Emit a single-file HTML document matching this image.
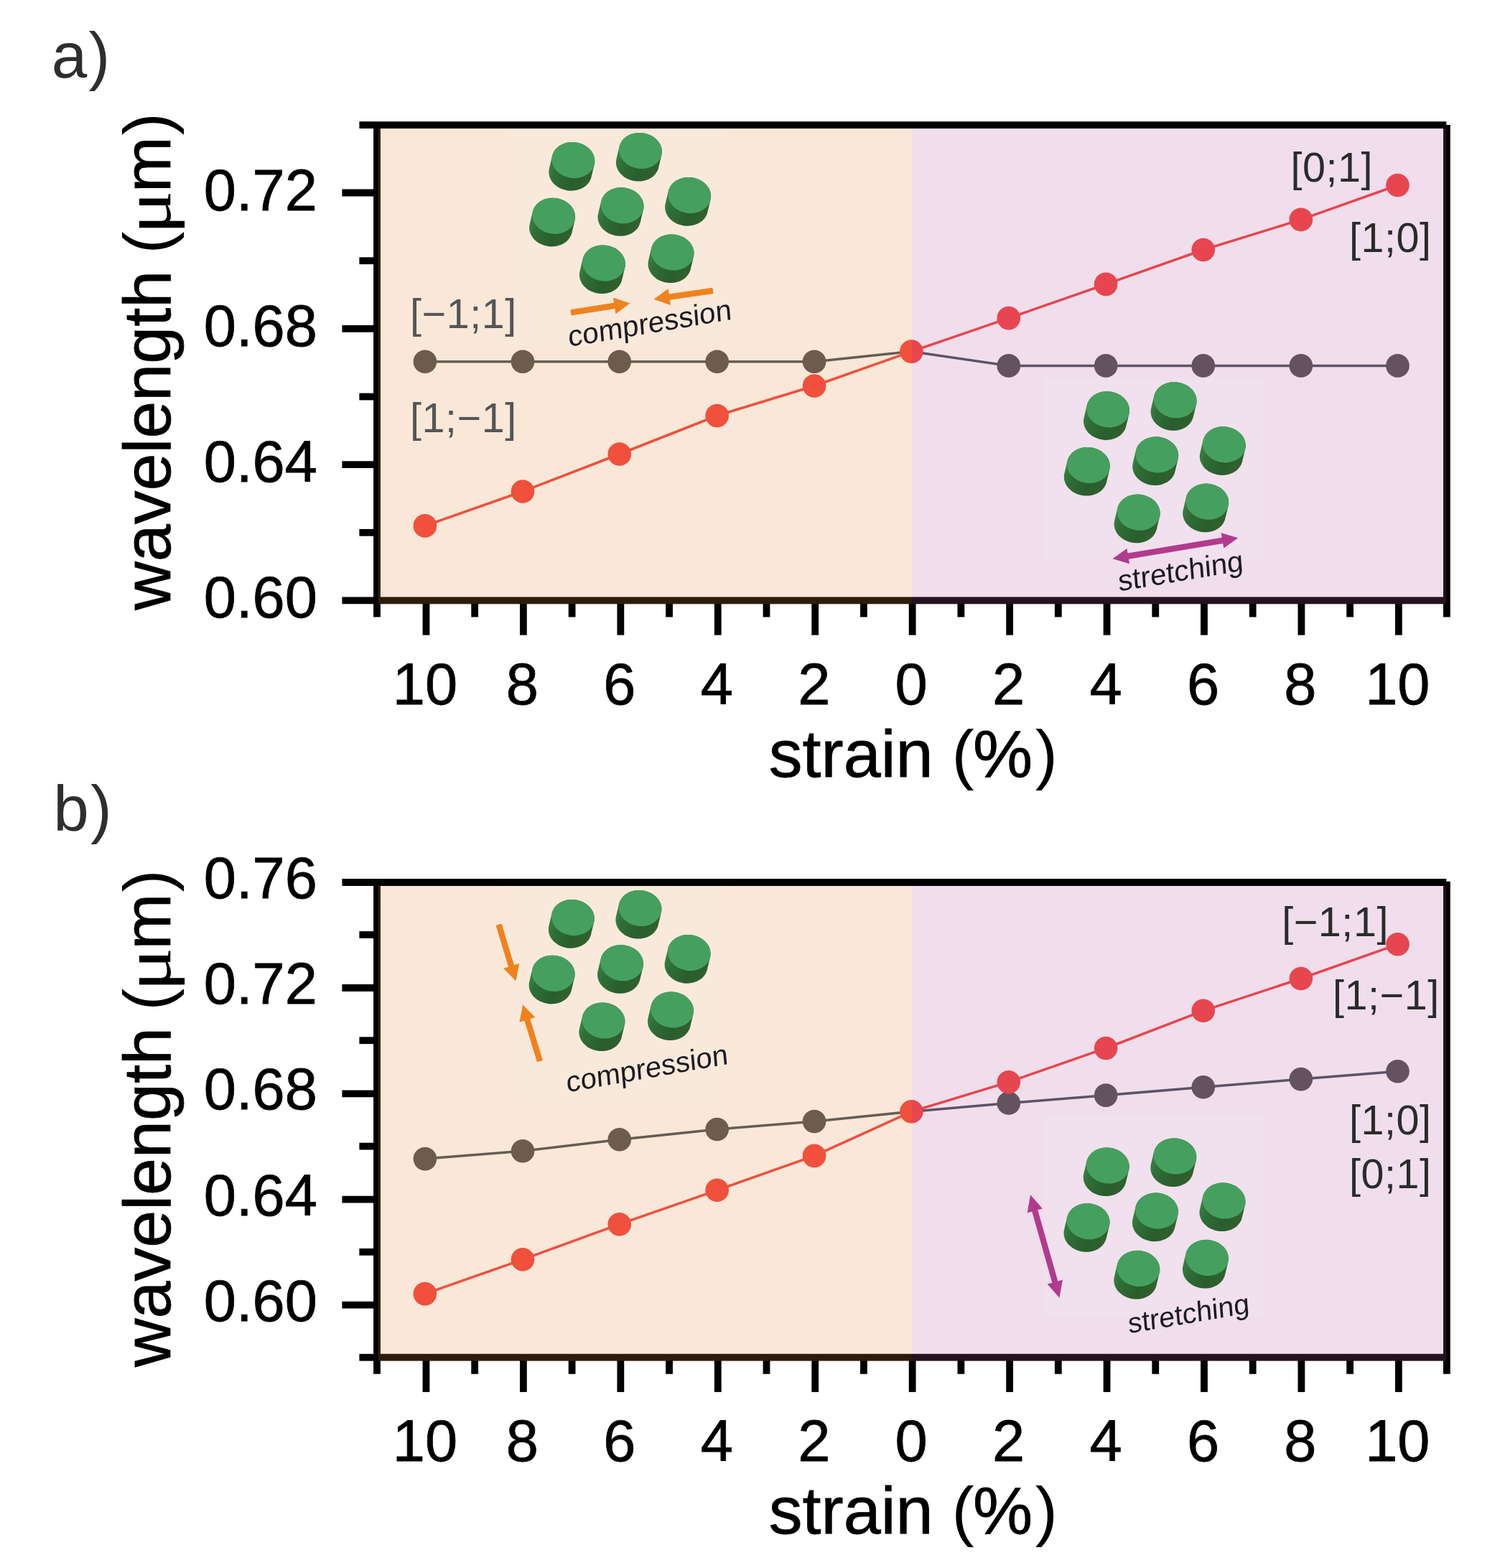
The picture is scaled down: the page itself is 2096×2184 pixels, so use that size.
<!DOCTYPE html>
<html lang="en"><head><meta charset="utf-8"><title>Strain dependence of resonance wavelength</title>
<style>
html,body{margin:0;padding:0;background:#fff;}
body{width:2096px;height:2184px;overflow:hidden;}
svg{display:block;}
text{font-family:"Liberation Sans",sans-serif;}
.tk{font-size:81.2px;fill:#000;stroke:#000;stroke-width:0.8px;}
.ax{font-size:92.4px;fill:#000;stroke:#000;stroke-width:0.8px;}
.pl{font-size:89px;fill:#2e2e2e;}
.lb{font-size:57.5px;letter-spacing:0.55px;}
.in{font-size:40.7px;fill:#1c1a22;}
.mu{font-family:"Liberation Serif","DejaVu Serif",serif;stroke-width:0.2px;}
.pn{stroke:none;}
</style></head><body>
<svg width="2096" height="2184" viewBox="0 0 2096 2184" role="img" aria-label="Resonance wavelength versus strain for compression and stretching, panels a and b">
<defs>
<linearGradient id="side" x1="0" y1="0.35" x2="1" y2="0.75"><stop offset="0" stop-color="#3a8845"/><stop offset="0.22" stop-color="#2f6e37"/><stop offset="0.6" stop-color="#2a5d2e"/><stop offset="1" stop-color="#33622e"/></linearGradient>
</defs>
<rect x="0" y="0" width="2096" height="2184" fill="#fff"/>
<g id="panel-a">
<g stroke="#000" stroke-width="9.8" fill="none" stroke-linecap="butt">
<line x1="525" y1="174.1" x2="525" y2="859.5"/>
<line x1="2014.9" y1="174.1" x2="2014.9" y2="859.5"/>
<line x1="525" y1="836.4" x2="2014.9" y2="836.4"/>
<line x1="525" y1="174.1" x2="2014.3" y2="174.1"/>
<line x1="476.4" y1="268.5" x2="525" y2="268.5"/>
<line x1="476.4" y1="457.8" x2="525" y2="457.8"/>
<line x1="476.4" y1="647.1" x2="525" y2="647.1"/>
<line x1="476.4" y1="836.4" x2="525" y2="836.4"/>
<line x1="500.4" y1="174.1" x2="525" y2="174.1"/>
<line x1="500.4" y1="363.2" x2="525" y2="363.2"/>
<line x1="500.4" y1="552.5" x2="525" y2="552.5"/>
<line x1="500.4" y1="741.8" x2="525" y2="741.8"/>
<line x1="593.45" y1="836.4" x2="593.45" y2="884.6"/>
<line x1="661.17" y1="836.4" x2="661.17" y2="859.5"/>
<line x1="728.89" y1="836.4" x2="728.89" y2="884.6"/>
<line x1="796.61" y1="836.4" x2="796.61" y2="859.5"/>
<line x1="864.33" y1="836.4" x2="864.33" y2="884.6"/>
<line x1="932.05" y1="836.4" x2="932.05" y2="859.5"/>
<line x1="999.77" y1="836.4" x2="999.77" y2="884.6"/>
<line x1="1067.49" y1="836.4" x2="1067.49" y2="859.5"/>
<line x1="1135.21" y1="836.4" x2="1135.21" y2="884.6"/>
<line x1="1202.93" y1="836.4" x2="1202.93" y2="859.5"/>
<line x1="1270.65" y1="836.4" x2="1270.65" y2="884.6"/>
<line x1="1338.37" y1="836.4" x2="1338.37" y2="859.5"/>
<line x1="1406.09" y1="836.4" x2="1406.09" y2="884.6"/>
<line x1="1473.81" y1="836.4" x2="1473.81" y2="859.5"/>
<line x1="1541.53" y1="836.4" x2="1541.53" y2="884.6"/>
<line x1="1609.25" y1="836.4" x2="1609.25" y2="859.5"/>
<line x1="1676.97" y1="836.4" x2="1676.97" y2="884.6"/>
<line x1="1744.69" y1="836.4" x2="1744.69" y2="859.5"/>
<line x1="1812.41" y1="836.4" x2="1812.41" y2="884.6"/>
<line x1="1880.13" y1="836.4" x2="1880.13" y2="859.5"/>
<line x1="1947.85" y1="836.4" x2="1947.85" y2="884.6"/>
</g>
<polyline fill="none" stroke="#46525a" stroke-width="3.5" points="591.9,503.8 727.96,503.8 862.72,503.8 998.68,503.8 1134.04,503.8 1269.4,489.6 1404.76,509.4 1540.12,509.4 1675.78,509.4 1811.84,509.4 1946.5,509.4"/>
<polyline fill="none" stroke="#f4413c" stroke-width="3.5" points="591.9,732.4 727.96,684.5 862.72,632.5 998.68,579 1134.04,537.5 1269.4,489.6 1404.76,443.1 1540.12,395.9 1675.78,348 1811.84,305.9 1946.5,258"/>
<circle cx="591.9" cy="503.8" r="16.3" fill="#505050"/>
<circle cx="727.96" cy="503.8" r="16.3" fill="#505050"/>
<circle cx="862.72" cy="503.8" r="16.3" fill="#505050"/>
<circle cx="998.68" cy="503.8" r="16.3" fill="#505050"/>
<circle cx="1134.04" cy="503.8" r="16.3" fill="#505050"/>
<circle cx="1404.76" cy="509.4" r="16.3" fill="#505050"/>
<circle cx="1540.12" cy="509.4" r="16.3" fill="#505050"/>
<circle cx="1675.78" cy="509.4" r="16.3" fill="#505050"/>
<circle cx="1811.84" cy="509.4" r="16.3" fill="#505050"/>
<circle cx="1946.5" cy="509.4" r="16.3" fill="#505050"/>
<circle cx="591.9" cy="732.4" r="16.3" fill="#f4413c"/>
<circle cx="727.96" cy="684.5" r="16.3" fill="#f4413c"/>
<circle cx="862.72" cy="632.5" r="16.3" fill="#f4413c"/>
<circle cx="998.68" cy="579" r="16.3" fill="#f4413c"/>
<circle cx="1134.04" cy="537.5" r="16.3" fill="#f4413c"/>
<circle cx="1269.4" cy="489.6" r="16.3" fill="#f4413c"/>
<circle cx="1404.76" cy="443.1" r="16.3" fill="#f4413c"/>
<circle cx="1540.12" cy="395.9" r="16.3" fill="#f4413c"/>
<circle cx="1675.78" cy="348" r="16.3" fill="#f4413c"/>
<circle cx="1811.84" cy="305.9" r="16.3" fill="#f4413c"/>
<circle cx="1946.5" cy="258" r="16.3" fill="#f4413c"/>
<rect x="526.5" y="179" width="743.9" height="662.3" fill="rgb(225,140,60)" fill-opacity="0.2"/>
<rect x="1270.4" y="179" width="743.9" height="662.3" fill="rgb(180,88,160)" fill-opacity="0.2"/>
<text class="tk" x="441.8" y="292.5" text-anchor="end">0.72</text>
<text class="tk" x="441.8" y="481.8" text-anchor="end">0.68</text>
<text class="tk" x="441.8" y="671.1" text-anchor="end">0.64</text>
<text class="tk" x="441.8" y="860.4" text-anchor="end">0.60</text>
<text class="tk" x="591.95" y="980.8" text-anchor="middle">10</text>
<text class="tk" x="727.39" y="980.8" text-anchor="middle">8</text>
<text class="tk" x="862.83" y="980.8" text-anchor="middle">6</text>
<text class="tk" x="998.27" y="980.8" text-anchor="middle">4</text>
<text class="tk" x="1133.71" y="980.8" text-anchor="middle">2</text>
<text class="tk" x="1269.15" y="980.8" text-anchor="middle">0</text>
<text class="tk" x="1404.59" y="980.8" text-anchor="middle">2</text>
<text class="tk" x="1540.03" y="980.8" text-anchor="middle">4</text>
<text class="tk" x="1675.47" y="980.8" text-anchor="middle">6</text>
<text class="tk" x="1810.91" y="980.8" text-anchor="middle">8</text>
<text class="tk" x="1946.35" y="980.8" text-anchor="middle">10</text>
<text class="ax" transform="translate(1271.8 1081.9) scale(1.012 1)" text-anchor="middle">strain <tspan class="pn">(</tspan><tspan dx="-1.5">%</tspan><tspan class="pn" dx="3.5">)</tspan></text>
<text class="ax" transform="translate(236.7 849.77) rotate(-90) scale(1.012 1)">wavelength <tspan class="pn" dx="-2.6">(</tspan><tspan class="mu" dx="-3.8" textLength="59.9" lengthAdjust="spacingAndGlyphs">μ</tspan><tspan dx="-2.5">m</tspan><tspan class="pn" dx="1.9">)</tspan></text>
<text class="pl" x="71.8" y="108">a<tspan dx="2.3">)</tspan></text>
</g>
<g id="panel-b">
<g stroke="#000" stroke-width="9.8" fill="none" stroke-linecap="butt">
<line x1="525" y1="1229" x2="525" y2="1913.8"/>
<line x1="2014.9" y1="1227.7" x2="2014.9" y2="1913.8"/>
<line x1="525" y1="1890.7" x2="2014.9" y2="1890.7"/>
<line x1="525" y1="1229" x2="2014.3" y2="1229"/>
<line x1="476.4" y1="1229" x2="525" y2="1229"/>
<line x1="476.4" y1="1376" x2="525" y2="1376"/>
<line x1="476.4" y1="1523.3" x2="525" y2="1523.3"/>
<line x1="476.4" y1="1670.6" x2="525" y2="1670.6"/>
<line x1="476.4" y1="1817.7" x2="525" y2="1817.7"/>
<line x1="500.4" y1="1302" x2="525" y2="1302"/>
<line x1="500.4" y1="1449.2" x2="525" y2="1449.2"/>
<line x1="500.4" y1="1596.6" x2="525" y2="1596.6"/>
<line x1="500.4" y1="1743.8" x2="525" y2="1743.8"/>
<line x1="500.4" y1="1890.7" x2="525" y2="1890.7"/>
<line x1="593.45" y1="1890.7" x2="593.45" y2="1938.9"/>
<line x1="661.17" y1="1890.7" x2="661.17" y2="1913.8"/>
<line x1="728.89" y1="1890.7" x2="728.89" y2="1938.9"/>
<line x1="796.61" y1="1890.7" x2="796.61" y2="1913.8"/>
<line x1="864.33" y1="1890.7" x2="864.33" y2="1938.9"/>
<line x1="932.05" y1="1890.7" x2="932.05" y2="1913.8"/>
<line x1="999.77" y1="1890.7" x2="999.77" y2="1938.9"/>
<line x1="1067.49" y1="1890.7" x2="1067.49" y2="1913.8"/>
<line x1="1135.21" y1="1890.7" x2="1135.21" y2="1938.9"/>
<line x1="1202.93" y1="1890.7" x2="1202.93" y2="1913.8"/>
<line x1="1270.65" y1="1890.7" x2="1270.65" y2="1938.9"/>
<line x1="1338.37" y1="1890.7" x2="1338.37" y2="1913.8"/>
<line x1="1406.09" y1="1890.7" x2="1406.09" y2="1938.9"/>
<line x1="1473.81" y1="1890.7" x2="1473.81" y2="1913.8"/>
<line x1="1541.53" y1="1890.7" x2="1541.53" y2="1938.9"/>
<line x1="1609.25" y1="1890.7" x2="1609.25" y2="1913.8"/>
<line x1="1676.97" y1="1890.7" x2="1676.97" y2="1938.9"/>
<line x1="1744.69" y1="1890.7" x2="1744.69" y2="1913.8"/>
<line x1="1812.41" y1="1890.7" x2="1812.41" y2="1938.9"/>
<line x1="1880.13" y1="1890.7" x2="1880.13" y2="1913.8"/>
<line x1="1947.85" y1="1890.7" x2="1947.85" y2="1938.9"/>
</g>
<polyline fill="none" stroke="#46525a" stroke-width="3.5" points="591.9,1614.1 727.96,1603.2 862.72,1587.2 998.68,1573 1134.04,1562 1269.4,1548.3 1404.76,1536.5 1540.12,1525.6 1675.78,1514.3 1811.84,1503.1 1946.5,1492.2"/>
<polyline fill="none" stroke="#f4413c" stroke-width="3.5" points="591.9,1802.1 727.96,1754.3 862.72,1705.2 998.68,1657.8 1134.04,1609.9 1269.4,1548.3 1404.76,1507.2 1540.12,1460 1675.78,1407.8 1811.84,1363 1946.5,1315.3"/>
<circle cx="591.9" cy="1614.1" r="16.3" fill="#505050"/>
<circle cx="727.96" cy="1603.2" r="16.3" fill="#505050"/>
<circle cx="862.72" cy="1587.2" r="16.3" fill="#505050"/>
<circle cx="998.68" cy="1573" r="16.3" fill="#505050"/>
<circle cx="1134.04" cy="1562" r="16.3" fill="#505050"/>
<circle cx="1404.76" cy="1536.5" r="16.3" fill="#505050"/>
<circle cx="1540.12" cy="1525.6" r="16.3" fill="#505050"/>
<circle cx="1675.78" cy="1514.3" r="16.3" fill="#505050"/>
<circle cx="1811.84" cy="1503.1" r="16.3" fill="#505050"/>
<circle cx="1946.5" cy="1492.2" r="16.3" fill="#505050"/>
<circle cx="591.9" cy="1802.1" r="16.3" fill="#f4413c"/>
<circle cx="727.96" cy="1754.3" r="16.3" fill="#f4413c"/>
<circle cx="862.72" cy="1705.2" r="16.3" fill="#f4413c"/>
<circle cx="998.68" cy="1657.8" r="16.3" fill="#f4413c"/>
<circle cx="1134.04" cy="1609.9" r="16.3" fill="#f4413c"/>
<circle cx="1269.4" cy="1548.3" r="16.3" fill="#f4413c"/>
<circle cx="1404.76" cy="1507.2" r="16.3" fill="#f4413c"/>
<circle cx="1540.12" cy="1460" r="16.3" fill="#f4413c"/>
<circle cx="1675.78" cy="1407.8" r="16.3" fill="#f4413c"/>
<circle cx="1811.84" cy="1363" r="16.3" fill="#f4413c"/>
<circle cx="1946.5" cy="1315.3" r="16.3" fill="#f4413c"/>
<rect x="526.5" y="1233.9" width="743.9" height="661.7" fill="rgb(225,140,60)" fill-opacity="0.2"/>
<rect x="1270.4" y="1233.9" width="743.9" height="661.7" fill="rgb(180,88,160)" fill-opacity="0.2"/>
<text class="tk" x="441.8" y="1250.9" text-anchor="end">0.76</text>
<text class="tk" x="441.8" y="1397.9" text-anchor="end">0.72</text>
<text class="tk" x="441.8" y="1545.2" text-anchor="end">0.68</text>
<text class="tk" x="441.8" y="1692.5" text-anchor="end">0.64</text>
<text class="tk" x="441.8" y="1839.6" text-anchor="end">0.60</text>
<text class="tk" x="591.95" y="2035.3" text-anchor="middle">10</text>
<text class="tk" x="727.39" y="2035.3" text-anchor="middle">8</text>
<text class="tk" x="862.83" y="2035.3" text-anchor="middle">6</text>
<text class="tk" x="998.27" y="2035.3" text-anchor="middle">4</text>
<text class="tk" x="1133.71" y="2035.3" text-anchor="middle">2</text>
<text class="tk" x="1269.15" y="2035.3" text-anchor="middle">0</text>
<text class="tk" x="1404.59" y="2035.3" text-anchor="middle">2</text>
<text class="tk" x="1540.03" y="2035.3" text-anchor="middle">4</text>
<text class="tk" x="1675.47" y="2035.3" text-anchor="middle">6</text>
<text class="tk" x="1810.91" y="2035.3" text-anchor="middle">8</text>
<text class="tk" x="1946.35" y="2035.3" text-anchor="middle">10</text>
<text class="ax" transform="translate(1271.8 2135.6) scale(1.012 1)" text-anchor="middle">strain <tspan class="pn">(</tspan><tspan dx="-1.5">%</tspan><tspan class="pn" dx="3.5">)</tspan></text>
<text class="ax" transform="translate(236.7 1904.07) rotate(-90) scale(1.012 1)">wavelength <tspan class="pn" dx="-2.6">(</tspan><tspan class="mu" dx="-3.8" textLength="59.9" lengthAdjust="spacingAndGlyphs">μ</tspan><tspan dx="-2.5">m</tspan><tspan class="pn" dx="1.9">)</tspan></text>
<text class="pl" x="74.2" y="1157.3">b<tspan dx="2.3">)</tspan></text>
</g>
<g id="inset-a-compression">
<rect x="708" y="182" width="305" height="300" fill="#fff" fill-opacity="0.07"/>
<path d="M764.3 239.7L764.5 236.4L765.2 233.2L769.4 215.7L770.6 212.7L772.3 209.8L774.4 207.1L776.9 204.7L779.9 202.6L783.1 200.9L786.6 199.6L790.2 198.6L794.1 198.1L798.0 198.0L801.9 198.3L805.7 199.1L809.4 200.3L813.0 201.8L816.3 203.7L819.2 206.0L821.9 208.5L824.1 211.3L825.9 214.3L827.2 217.5L828.0 220.7L828.3 224.0L828.1 227.3L827.4 230.5L823.2 248.0L822.0 251.0L820.3 253.9L818.2 256.6L815.7 259.0L812.7 261.1L809.5 262.8L806.0 264.1L802.4 265.1L798.5 265.6L794.6 265.7L790.7 265.4L786.9 264.6L783.2 263.4L779.6 261.9L776.3 260.0L773.4 257.7L770.7 255.2L768.5 252.4L766.7 249.4L765.4 246.2L764.6 243.0Z" fill="url(#side)"/>
<ellipse cx="798.4" cy="223.1" rx="30" ry="25" transform="rotate(8 798.4 223.1)" fill="#45a05f"/>
<path d="M857.9 226.6L858.1 223.3L858.8 220.1L863.0 202.6L864.2 199.6L865.9 196.7L868.0 194.0L870.5 191.6L873.5 189.5L876.7 187.8L880.2 186.5L883.8 185.5L887.7 185.0L891.6 184.9L895.5 185.2L899.3 186.0L903.0 187.2L906.6 188.7L909.9 190.6L912.8 192.9L915.5 195.4L917.7 198.2L919.5 201.2L920.8 204.4L921.6 207.6L921.9 210.9L921.7 214.2L921.0 217.4L916.8 234.9L915.6 237.9L913.9 240.8L911.8 243.5L909.3 245.9L906.3 248.0L903.1 249.7L899.6 251.0L896.0 252.0L892.1 252.5L888.2 252.6L884.3 252.3L880.5 251.5L876.8 250.3L873.2 248.8L869.9 246.9L867.0 244.6L864.3 242.1L862.1 239.3L860.3 236.3L859.0 233.1L858.2 229.9Z" fill="url(#side)"/>
<ellipse cx="892" cy="210" rx="30" ry="25" transform="rotate(8 892 210)" fill="#45a05f"/>
<path d="M737.1 317.4L737.3 314.1L738.0 310.9L742.2 293.4L743.4 290.4L745.1 287.5L747.2 284.8L749.7 282.4L752.7 280.3L755.9 278.6L759.4 277.3L763.0 276.3L766.9 275.8L770.8 275.7L774.7 276.0L778.5 276.8L782.2 278.0L785.8 279.5L789.1 281.4L792.0 283.7L794.7 286.2L796.9 289.0L798.7 292.0L800.0 295.2L800.8 298.4L801.1 301.7L800.9 305.0L800.2 308.2L796.0 325.7L794.8 328.7L793.1 331.6L791.0 334.3L788.5 336.7L785.5 338.8L782.3 340.5L778.8 341.8L775.2 342.8L771.3 343.3L767.4 343.4L763.5 343.1L759.7 342.3L756.0 341.1L752.4 339.6L749.1 337.7L746.2 335.4L743.5 332.9L741.3 330.1L739.5 327.1L738.2 323.9L737.4 320.7Z" fill="url(#side)"/>
<ellipse cx="771.2" cy="300.8" rx="30" ry="25" transform="rotate(8 771.2 300.8)" fill="#45a05f"/>
<path d="M832.5 302.8L832.7 299.5L833.4 296.3L837.6 278.8L838.8 275.8L840.5 272.9L842.6 270.2L845.1 267.8L848.1 265.7L851.3 264.0L854.8 262.7L858.4 261.7L862.3 261.2L866.2 261.1L870.1 261.4L873.9 262.2L877.6 263.4L881.2 264.9L884.5 266.8L887.4 269.1L890.1 271.6L892.3 274.4L894.1 277.4L895.4 280.6L896.2 283.8L896.5 287.1L896.3 290.4L895.6 293.6L891.4 311.1L890.2 314.1L888.5 317.0L886.4 319.7L883.9 322.1L880.9 324.2L877.7 325.9L874.2 327.2L870.6 328.2L866.7 328.7L862.8 328.8L858.9 328.5L855.1 327.7L851.4 326.5L847.8 325.0L844.5 323.1L841.6 320.8L838.9 318.3L836.7 315.5L834.9 312.5L833.6 309.3L832.8 306.1Z" fill="url(#side)"/>
<ellipse cx="866.6" cy="286.2" rx="30" ry="25" transform="rotate(8 866.6 286.2)" fill="#45a05f"/>
<path d="M926.1 288.7L926.3 285.4L927.0 282.2L931.2 264.7L932.4 261.7L934.1 258.8L936.2 256.1L938.7 253.7L941.7 251.6L944.9 249.9L948.4 248.6L952.0 247.6L955.9 247.1L959.8 247.0L963.7 247.3L967.5 248.1L971.2 249.3L974.8 250.8L978.1 252.7L981.0 255.0L983.7 257.5L985.9 260.3L987.7 263.3L989.0 266.5L989.8 269.7L990.1 273.0L989.9 276.3L989.2 279.5L985.0 297.0L983.8 300.0L982.1 302.9L980.0 305.6L977.5 308.0L974.5 310.1L971.3 311.8L967.8 313.1L964.2 314.1L960.3 314.6L956.4 314.7L952.5 314.4L948.7 313.6L945.0 312.4L941.4 310.9L938.1 309.0L935.2 306.7L932.5 304.2L930.3 301.4L928.5 298.4L927.2 295.2L926.4 292.0Z" fill="url(#side)"/>
<ellipse cx="960.2" cy="272.1" rx="30" ry="25" transform="rotate(8 960.2 272.1)" fill="#45a05f"/>
<path d="M806.9 383.1L807.1 379.8L807.8 376.6L812.0 359.1L813.2 356.1L814.9 353.2L817.0 350.5L819.5 348.1L822.5 346.0L825.7 344.3L829.2 343.0L832.8 342.0L836.7 341.5L840.6 341.4L844.5 341.7L848.3 342.5L852.0 343.7L855.6 345.2L858.9 347.1L861.8 349.4L864.5 351.9L866.7 354.7L868.5 357.7L869.8 360.9L870.6 364.1L870.9 367.4L870.7 370.7L870.0 373.9L865.8 391.4L864.6 394.4L862.9 397.3L860.8 400.0L858.3 402.4L855.3 404.5L852.1 406.2L848.6 407.5L845.0 408.5L841.1 409.0L837.2 409.1L833.3 408.8L829.5 408.0L825.8 406.8L822.2 405.3L818.9 403.4L816.0 401.1L813.3 398.6L811.1 395.8L809.3 392.8L808.0 389.6L807.2 386.4Z" fill="url(#side)"/>
<ellipse cx="841" cy="366.5" rx="30" ry="25" transform="rotate(8 841 366.5)" fill="#45a05f"/>
<path d="M902.5 368.1L902.7 364.8L903.4 361.6L907.6 344.1L908.8 341.1L910.5 338.2L912.6 335.5L915.1 333.1L918.1 331.0L921.3 329.3L924.8 328.0L928.4 327.0L932.3 326.5L936.2 326.4L940.1 326.7L943.9 327.5L947.6 328.7L951.2 330.2L954.5 332.1L957.4 334.4L960.1 336.9L962.3 339.7L964.1 342.7L965.4 345.9L966.2 349.1L966.5 352.4L966.3 355.7L965.6 358.9L961.4 376.4L960.2 379.4L958.5 382.3L956.4 385.0L953.9 387.4L950.9 389.5L947.7 391.2L944.2 392.5L940.6 393.5L936.7 394.0L932.8 394.1L928.9 393.8L925.1 393.0L921.4 391.8L917.8 390.3L914.5 388.4L911.6 386.1L908.9 383.6L906.7 380.8L904.9 377.8L903.6 374.6L902.8 371.4Z" fill="url(#side)"/>
<ellipse cx="936.6" cy="351.5" rx="30" ry="25" transform="rotate(8 936.6 351.5)" fill="#45a05f"/>
<path d="M795.5 439.5L856.3 430.0L857.4 437.3L877.4 422.5L853.9 414.5L855.0 421.8L794.3 431.3Z" fill="#ef821d"/>
<path d="M992.4 400.7L931.7 409.5L930.6 402.2L910.5 416.7L933.9 424.9L932.9 417.7L993.6 408.9Z" fill="#ef821d"/>
<text class="in" transform="translate(792.3 483.1) rotate(-9.57) skewX(-5)">compression</text>
</g>
<g id="inset-a-stretching">
<rect x="1454.5" y="527" width="307" height="253" fill="#fff" fill-opacity="0.07"/>
<path d="M1509.0 586.9L1509.2 583.6L1509.9 580.4L1514.1 562.9L1515.3 559.9L1517.0 557.0L1519.1 554.3L1521.6 551.9L1524.6 549.8L1527.8 548.1L1531.3 546.8L1534.9 545.8L1538.8 545.3L1542.7 545.2L1546.6 545.5L1550.4 546.3L1554.1 547.5L1557.7 549.0L1561.0 550.9L1563.9 553.2L1566.6 555.7L1568.8 558.5L1570.6 561.5L1571.9 564.7L1572.7 567.9L1573.0 571.2L1572.8 574.5L1572.1 577.7L1567.9 595.2L1566.7 598.2L1565.0 601.1L1562.9 603.8L1560.4 606.2L1557.4 608.3L1554.2 610.0L1550.7 611.3L1547.1 612.3L1543.2 612.8L1539.3 612.9L1535.4 612.6L1531.6 611.8L1527.9 610.6L1524.3 609.1L1521.0 607.2L1518.1 604.9L1515.4 602.4L1513.2 599.6L1511.4 596.6L1510.1 593.4L1509.3 590.2Z" fill="url(#side)"/>
<ellipse cx="1543.1" cy="570.3" rx="30" ry="25" transform="rotate(8 1543.1 570.3)" fill="#45a05f"/>
<path d="M1602.6 573.8L1602.8 570.5L1603.5 567.3L1607.7 549.8L1608.9 546.8L1610.6 543.9L1612.7 541.2L1615.2 538.8L1618.2 536.7L1621.4 535.0L1624.9 533.7L1628.5 532.7L1632.4 532.2L1636.3 532.1L1640.2 532.4L1644.0 533.2L1647.7 534.4L1651.3 535.9L1654.6 537.8L1657.5 540.1L1660.2 542.6L1662.4 545.4L1664.2 548.4L1665.5 551.6L1666.3 554.8L1666.6 558.1L1666.4 561.4L1665.7 564.6L1661.5 582.1L1660.3 585.1L1658.6 588.0L1656.5 590.7L1654.0 593.1L1651.0 595.2L1647.8 596.9L1644.3 598.2L1640.7 599.2L1636.8 599.7L1632.9 599.8L1629.0 599.5L1625.2 598.7L1621.5 597.5L1617.9 596.0L1614.6 594.1L1611.7 591.8L1609.0 589.3L1606.8 586.5L1605.0 583.5L1603.7 580.3L1602.9 577.1Z" fill="url(#side)"/>
<ellipse cx="1636.7" cy="557.2" rx="30" ry="25" transform="rotate(8 1636.7 557.2)" fill="#45a05f"/>
<path d="M1481.8 664.6L1482.0 661.3L1482.7 658.1L1486.9 640.6L1488.1 637.6L1489.8 634.7L1491.9 632.0L1494.4 629.6L1497.4 627.5L1500.6 625.8L1504.1 624.5L1507.7 623.5L1511.6 623.0L1515.5 622.9L1519.4 623.2L1523.2 624.0L1526.9 625.2L1530.5 626.7L1533.8 628.6L1536.7 630.9L1539.4 633.4L1541.6 636.2L1543.4 639.2L1544.7 642.4L1545.5 645.6L1545.8 648.9L1545.6 652.2L1544.9 655.4L1540.7 672.9L1539.5 675.9L1537.8 678.8L1535.7 681.5L1533.2 683.9L1530.2 686.0L1527.0 687.7L1523.5 689.0L1519.9 690.0L1516.0 690.5L1512.1 690.6L1508.2 690.3L1504.4 689.5L1500.7 688.3L1497.1 686.8L1493.8 684.9L1490.9 682.6L1488.2 680.1L1486.0 677.3L1484.2 674.3L1482.9 671.1L1482.1 667.9Z" fill="url(#side)"/>
<ellipse cx="1515.9" cy="648" rx="30" ry="25" transform="rotate(8 1515.9 648)" fill="#45a05f"/>
<path d="M1577.2 650.0L1577.4 646.7L1578.1 643.5L1582.3 626.0L1583.5 623.0L1585.2 620.1L1587.3 617.4L1589.8 615.0L1592.8 612.9L1596.0 611.2L1599.5 609.9L1603.1 608.9L1607.0 608.4L1610.9 608.3L1614.8 608.6L1618.6 609.4L1622.3 610.6L1625.9 612.1L1629.2 614.0L1632.1 616.3L1634.8 618.8L1637.0 621.6L1638.8 624.6L1640.1 627.8L1640.9 631.0L1641.2 634.3L1641.0 637.6L1640.3 640.8L1636.1 658.3L1634.9 661.3L1633.2 664.2L1631.1 666.9L1628.6 669.3L1625.6 671.4L1622.4 673.1L1618.9 674.4L1615.3 675.4L1611.4 675.9L1607.5 676.0L1603.6 675.7L1599.8 674.9L1596.1 673.7L1592.5 672.2L1589.2 670.3L1586.3 668.0L1583.6 665.5L1581.4 662.7L1579.6 659.7L1578.3 656.5L1577.5 653.3Z" fill="url(#side)"/>
<ellipse cx="1611.3" cy="633.4" rx="30" ry="25" transform="rotate(8 1611.3 633.4)" fill="#45a05f"/>
<path d="M1670.8 635.9L1671.0 632.6L1671.7 629.4L1675.9 611.9L1677.1 608.9L1678.8 606.0L1680.9 603.3L1683.4 600.9L1686.4 598.8L1689.6 597.1L1693.1 595.8L1696.7 594.8L1700.6 594.3L1704.5 594.2L1708.4 594.5L1712.2 595.3L1715.9 596.5L1719.5 598.0L1722.8 599.9L1725.7 602.2L1728.4 604.7L1730.6 607.5L1732.4 610.5L1733.7 613.7L1734.5 616.9L1734.8 620.2L1734.6 623.5L1733.9 626.7L1729.7 644.2L1728.5 647.2L1726.8 650.1L1724.7 652.8L1722.2 655.2L1719.2 657.3L1716.0 659.0L1712.5 660.3L1708.9 661.3L1705.0 661.8L1701.1 661.9L1697.2 661.6L1693.4 660.8L1689.7 659.6L1686.1 658.1L1682.8 656.2L1679.9 653.9L1677.2 651.4L1675.0 648.6L1673.2 645.6L1671.9 642.4L1671.1 639.2Z" fill="url(#side)"/>
<ellipse cx="1704.9" cy="619.3" rx="30" ry="25" transform="rotate(8 1704.9 619.3)" fill="#45a05f"/>
<path d="M1551.6 730.3L1551.8 727.0L1552.5 723.8L1556.7 706.3L1557.9 703.3L1559.6 700.4L1561.7 697.7L1564.2 695.3L1567.2 693.2L1570.4 691.5L1573.9 690.2L1577.5 689.2L1581.4 688.7L1585.3 688.6L1589.2 688.9L1593.0 689.7L1596.7 690.9L1600.3 692.4L1603.6 694.3L1606.5 696.6L1609.2 699.1L1611.4 701.9L1613.2 704.9L1614.5 708.1L1615.3 711.3L1615.6 714.6L1615.4 717.9L1614.7 721.1L1610.5 738.6L1609.3 741.6L1607.6 744.5L1605.5 747.2L1603.0 749.6L1600.0 751.7L1596.8 753.4L1593.3 754.7L1589.7 755.7L1585.8 756.2L1581.9 756.3L1578.0 756.0L1574.2 755.2L1570.5 754.0L1566.9 752.5L1563.6 750.6L1560.7 748.3L1558.0 745.8L1555.8 743.0L1554.0 740.0L1552.7 736.8L1551.9 733.6Z" fill="url(#side)"/>
<ellipse cx="1585.7" cy="713.7" rx="30" ry="25" transform="rotate(8 1585.7 713.7)" fill="#45a05f"/>
<path d="M1647.2 715.3L1647.4 712.0L1648.1 708.8L1652.3 691.3L1653.5 688.3L1655.2 685.4L1657.3 682.7L1659.8 680.3L1662.8 678.2L1666.0 676.5L1669.5 675.2L1673.1 674.2L1677.0 673.7L1680.9 673.6L1684.8 673.9L1688.6 674.7L1692.3 675.9L1695.9 677.4L1699.2 679.3L1702.1 681.6L1704.8 684.1L1707.0 686.9L1708.8 689.9L1710.1 693.1L1710.9 696.3L1711.2 699.6L1711.0 702.9L1710.3 706.1L1706.1 723.6L1704.9 726.6L1703.2 729.5L1701.1 732.2L1698.6 734.6L1695.6 736.7L1692.4 738.4L1688.9 739.7L1685.3 740.7L1681.4 741.2L1677.5 741.3L1673.6 741.0L1669.8 740.2L1666.1 739.0L1662.5 737.5L1659.2 735.6L1656.3 733.3L1653.6 730.8L1651.4 728.0L1649.6 725.0L1648.3 721.8L1647.5 718.6Z" fill="url(#side)"/>
<ellipse cx="1681.3" cy="698.7" rx="30" ry="25" transform="rotate(8 1681.3 698.7)" fill="#45a05f"/>
<path d="M1549.5 778.3L1573.0 785.3L1571.9 778.8L1703.2 756.9L1704.3 763.4L1724.2 749.2L1700.7 742.2L1701.8 748.7L1570.5 770.6L1569.4 764.1Z" fill="#b23a8e"/>
<text class="in" transform="translate(1558.3 823.6) rotate(-9.5) skewX(-5)">stretching</text>
</g>
<g id="inset-b-compression">
<rect x="708" y="1236" width="305" height="300" fill="#fff" fill-opacity="0.07"/>
<path d="M763.8 1294.7L764.0 1291.4L764.7 1288.2L768.9 1270.7L770.1 1267.7L771.8 1264.8L773.9 1262.1L776.4 1259.7L779.4 1257.6L782.6 1255.9L786.1 1254.6L789.7 1253.6L793.6 1253.1L797.5 1253.0L801.4 1253.3L805.2 1254.1L808.9 1255.3L812.5 1256.8L815.8 1258.7L818.7 1261.0L821.4 1263.5L823.6 1266.3L825.4 1269.3L826.7 1272.5L827.5 1275.7L827.8 1279.0L827.6 1282.3L826.9 1285.5L822.7 1303.0L821.5 1306.0L819.8 1308.9L817.7 1311.6L815.2 1314.0L812.2 1316.1L809.0 1317.8L805.5 1319.1L801.9 1320.1L798.0 1320.6L794.1 1320.7L790.2 1320.4L786.4 1319.6L782.7 1318.4L779.1 1316.9L775.8 1315.0L772.9 1312.7L770.2 1310.2L768.0 1307.4L766.2 1304.4L764.9 1301.2L764.1 1298.0Z" fill="url(#side)"/>
<ellipse cx="797.9" cy="1278.1" rx="30" ry="25" transform="rotate(8 797.9 1278.1)" fill="#45a05f"/>
<path d="M857.4 1281.6L857.6 1278.3L858.3 1275.1L862.5 1257.6L863.7 1254.6L865.4 1251.7L867.5 1249.0L870.0 1246.6L873.0 1244.5L876.2 1242.8L879.7 1241.5L883.3 1240.5L887.2 1240.0L891.1 1239.9L895.0 1240.2L898.8 1241.0L902.5 1242.2L906.1 1243.7L909.4 1245.6L912.3 1247.9L915.0 1250.4L917.2 1253.2L919.0 1256.2L920.3 1259.4L921.1 1262.6L921.4 1265.9L921.2 1269.2L920.5 1272.4L916.3 1289.9L915.1 1292.9L913.4 1295.8L911.3 1298.5L908.8 1300.9L905.8 1303.0L902.6 1304.7L899.1 1306.0L895.5 1307.0L891.6 1307.5L887.7 1307.6L883.8 1307.3L880.0 1306.5L876.3 1305.3L872.7 1303.8L869.4 1301.9L866.5 1299.6L863.8 1297.1L861.6 1294.3L859.8 1291.3L858.5 1288.1L857.7 1284.9Z" fill="url(#side)"/>
<ellipse cx="891.5" cy="1265" rx="30" ry="25" transform="rotate(8 891.5 1265)" fill="#45a05f"/>
<path d="M736.6 1372.4L736.8 1369.1L737.5 1365.9L741.7 1348.4L742.9 1345.4L744.6 1342.5L746.7 1339.8L749.2 1337.4L752.2 1335.3L755.4 1333.6L758.9 1332.3L762.5 1331.3L766.4 1330.8L770.3 1330.7L774.2 1331.0L778.0 1331.8L781.7 1333.0L785.3 1334.5L788.6 1336.4L791.5 1338.7L794.2 1341.2L796.4 1344.0L798.2 1347.0L799.5 1350.2L800.3 1353.4L800.6 1356.7L800.4 1360.0L799.7 1363.2L795.5 1380.7L794.3 1383.7L792.6 1386.6L790.5 1389.3L788.0 1391.7L785.0 1393.8L781.8 1395.5L778.3 1396.8L774.7 1397.8L770.8 1398.3L766.9 1398.4L763.0 1398.1L759.2 1397.3L755.5 1396.1L751.9 1394.6L748.6 1392.7L745.7 1390.4L743.0 1387.9L740.8 1385.1L739.0 1382.1L737.7 1378.9L736.9 1375.7Z" fill="url(#side)"/>
<ellipse cx="770.7" cy="1355.8" rx="30" ry="25" transform="rotate(8 770.7 1355.8)" fill="#45a05f"/>
<path d="M832.0 1357.8L832.2 1354.5L832.9 1351.3L837.1 1333.8L838.3 1330.8L840.0 1327.9L842.1 1325.2L844.6 1322.8L847.6 1320.7L850.8 1319.0L854.3 1317.7L857.9 1316.7L861.8 1316.2L865.7 1316.1L869.6 1316.4L873.4 1317.2L877.1 1318.4L880.7 1319.9L884.0 1321.8L886.9 1324.1L889.6 1326.6L891.8 1329.4L893.6 1332.4L894.9 1335.6L895.7 1338.8L896.0 1342.1L895.8 1345.4L895.1 1348.6L890.9 1366.1L889.7 1369.1L888.0 1372.0L885.9 1374.7L883.4 1377.1L880.4 1379.2L877.2 1380.9L873.7 1382.2L870.1 1383.2L866.2 1383.7L862.3 1383.8L858.4 1383.5L854.6 1382.7L850.9 1381.5L847.3 1380.0L844.0 1378.1L841.1 1375.8L838.4 1373.3L836.2 1370.5L834.4 1367.5L833.1 1364.3L832.3 1361.1Z" fill="url(#side)"/>
<ellipse cx="866.1" cy="1341.2" rx="30" ry="25" transform="rotate(8 866.1 1341.2)" fill="#45a05f"/>
<path d="M925.6 1343.7L925.8 1340.4L926.5 1337.2L930.7 1319.7L931.9 1316.7L933.6 1313.8L935.7 1311.1L938.2 1308.7L941.2 1306.6L944.4 1304.9L947.9 1303.6L951.5 1302.6L955.4 1302.1L959.3 1302.0L963.2 1302.3L967.0 1303.1L970.7 1304.3L974.3 1305.8L977.6 1307.7L980.5 1310.0L983.2 1312.5L985.4 1315.3L987.2 1318.3L988.5 1321.5L989.3 1324.7L989.6 1328.0L989.4 1331.3L988.7 1334.5L984.5 1352.0L983.3 1355.0L981.6 1357.9L979.5 1360.6L977.0 1363.0L974.0 1365.1L970.8 1366.8L967.3 1368.1L963.7 1369.1L959.8 1369.6L955.9 1369.7L952.0 1369.4L948.2 1368.6L944.5 1367.4L940.9 1365.9L937.6 1364.0L934.7 1361.7L932.0 1359.2L929.8 1356.4L928.0 1353.4L926.7 1350.2L925.9 1347.0Z" fill="url(#side)"/>
<ellipse cx="959.7" cy="1327.1" rx="30" ry="25" transform="rotate(8 959.7 1327.1)" fill="#45a05f"/>
<path d="M806.4 1438.1L806.6 1434.8L807.3 1431.6L811.5 1414.1L812.7 1411.1L814.4 1408.2L816.5 1405.5L819.0 1403.1L822.0 1401.0L825.2 1399.3L828.7 1398.0L832.3 1397.0L836.2 1396.5L840.1 1396.4L844.0 1396.7L847.8 1397.5L851.5 1398.7L855.1 1400.2L858.4 1402.1L861.3 1404.4L864.0 1406.9L866.2 1409.7L868.0 1412.7L869.3 1415.9L870.1 1419.1L870.4 1422.4L870.2 1425.7L869.5 1428.9L865.3 1446.4L864.1 1449.4L862.4 1452.3L860.3 1455.0L857.8 1457.4L854.8 1459.5L851.6 1461.2L848.1 1462.5L844.5 1463.5L840.6 1464.0L836.7 1464.1L832.8 1463.8L829.0 1463.0L825.3 1461.8L821.7 1460.3L818.4 1458.4L815.5 1456.1L812.8 1453.6L810.6 1450.8L808.8 1447.8L807.5 1444.6L806.7 1441.4Z" fill="url(#side)"/>
<ellipse cx="840.5" cy="1421.5" rx="30" ry="25" transform="rotate(8 840.5 1421.5)" fill="#45a05f"/>
<path d="M902.0 1423.1L902.2 1419.8L902.9 1416.6L907.1 1399.1L908.3 1396.1L910.0 1393.2L912.1 1390.5L914.6 1388.1L917.6 1386.0L920.8 1384.3L924.3 1383.0L927.9 1382.0L931.8 1381.5L935.7 1381.4L939.6 1381.7L943.4 1382.5L947.1 1383.7L950.7 1385.2L954.0 1387.1L956.9 1389.4L959.6 1391.9L961.8 1394.7L963.6 1397.7L964.9 1400.9L965.7 1404.1L966.0 1407.4L965.8 1410.7L965.1 1413.9L960.9 1431.4L959.7 1434.4L958.0 1437.3L955.9 1440.0L953.4 1442.4L950.4 1444.5L947.2 1446.2L943.7 1447.5L940.1 1448.5L936.2 1449.0L932.3 1449.1L928.4 1448.8L924.6 1448.0L920.9 1446.8L917.3 1445.3L914.0 1443.4L911.1 1441.1L908.4 1438.6L906.2 1435.8L904.4 1432.8L903.1 1429.6L902.3 1426.4Z" fill="url(#side)"/>
<ellipse cx="936.1" cy="1406.5" rx="30" ry="25" transform="rotate(8 936.1 1406.5)" fill="#45a05f"/>
<path d="M690.6 1288.9L708.1 1346.7L701.1 1348.8L718.5 1366.5L723.1 1342.1L716.1 1344.2L698.6 1286.5Z" fill="#ef821d"/>
<path d="M756.0 1476.9L738.4 1419.2L745.4 1417.1L728.0 1399.4L723.4 1423.8L730.4 1421.7L748.0 1479.3Z" fill="#ef821d"/>
<text class="in" style="font-size:40.3px" transform="translate(789.8 1521.4) rotate(-10) skewX(-5)">compression</text>
</g>
<g id="inset-b-stretching">
<rect x="1454.5" y="1553" width="307" height="281" fill="#fff" fill-opacity="0.07"/>
<path d="M1508.7 1640.1L1508.9 1636.8L1509.6 1633.6L1513.8 1616.1L1515.0 1613.1L1516.7 1610.2L1518.8 1607.5L1521.3 1605.1L1524.3 1603.0L1527.5 1601.3L1531.0 1600.0L1534.6 1599.0L1538.5 1598.5L1542.4 1598.4L1546.3 1598.7L1550.1 1599.5L1553.8 1600.7L1557.4 1602.2L1560.7 1604.1L1563.6 1606.4L1566.3 1608.9L1568.5 1611.7L1570.3 1614.7L1571.6 1617.9L1572.4 1621.1L1572.7 1624.4L1572.5 1627.7L1571.8 1630.9L1567.6 1648.4L1566.4 1651.4L1564.7 1654.3L1562.6 1657.0L1560.1 1659.4L1557.1 1661.5L1553.9 1663.2L1550.4 1664.5L1546.8 1665.5L1542.9 1666.0L1539.0 1666.1L1535.1 1665.8L1531.3 1665.0L1527.6 1663.8L1524.0 1662.3L1520.7 1660.4L1517.8 1658.1L1515.1 1655.6L1512.9 1652.8L1511.1 1649.8L1509.8 1646.6L1509.0 1643.4Z" fill="url(#side)"/>
<ellipse cx="1542.8" cy="1623.5" rx="30" ry="25" transform="rotate(8 1542.8 1623.5)" fill="#45a05f"/>
<path d="M1602.3 1627.0L1602.5 1623.7L1603.2 1620.5L1607.4 1603.0L1608.6 1600.0L1610.3 1597.1L1612.4 1594.4L1614.9 1592.0L1617.9 1589.9L1621.1 1588.2L1624.6 1586.9L1628.2 1585.9L1632.1 1585.4L1636.0 1585.3L1639.9 1585.6L1643.7 1586.4L1647.4 1587.6L1651.0 1589.1L1654.3 1591.0L1657.2 1593.3L1659.9 1595.8L1662.1 1598.6L1663.9 1601.6L1665.2 1604.8L1666.0 1608.0L1666.3 1611.3L1666.1 1614.6L1665.4 1617.8L1661.2 1635.3L1660.0 1638.3L1658.3 1641.2L1656.2 1643.9L1653.7 1646.3L1650.7 1648.4L1647.5 1650.1L1644.0 1651.4L1640.4 1652.4L1636.5 1652.9L1632.6 1653.0L1628.7 1652.7L1624.9 1651.9L1621.2 1650.7L1617.6 1649.2L1614.3 1647.3L1611.4 1645.0L1608.7 1642.5L1606.5 1639.7L1604.7 1636.7L1603.4 1633.5L1602.6 1630.3Z" fill="url(#side)"/>
<ellipse cx="1636.4" cy="1610.4" rx="30" ry="25" transform="rotate(8 1636.4 1610.4)" fill="#45a05f"/>
<path d="M1481.5 1717.8L1481.7 1714.5L1482.4 1711.3L1486.6 1693.8L1487.8 1690.8L1489.5 1687.9L1491.6 1685.2L1494.1 1682.8L1497.1 1680.7L1500.3 1679.0L1503.8 1677.7L1507.4 1676.7L1511.3 1676.2L1515.2 1676.1L1519.1 1676.4L1522.9 1677.2L1526.6 1678.4L1530.2 1679.9L1533.5 1681.8L1536.4 1684.1L1539.1 1686.6L1541.3 1689.4L1543.1 1692.4L1544.4 1695.6L1545.2 1698.8L1545.5 1702.1L1545.3 1705.4L1544.6 1708.6L1540.4 1726.1L1539.2 1729.1L1537.5 1732.0L1535.4 1734.7L1532.9 1737.1L1529.9 1739.2L1526.7 1740.9L1523.2 1742.2L1519.6 1743.2L1515.7 1743.7L1511.8 1743.8L1507.9 1743.5L1504.1 1742.7L1500.4 1741.5L1496.8 1740.0L1493.5 1738.1L1490.6 1735.8L1487.9 1733.3L1485.7 1730.5L1483.9 1727.5L1482.6 1724.3L1481.8 1721.1Z" fill="url(#side)"/>
<ellipse cx="1515.6" cy="1701.2" rx="30" ry="25" transform="rotate(8 1515.6 1701.2)" fill="#45a05f"/>
<path d="M1576.9 1703.2L1577.1 1699.9L1577.8 1696.7L1582.0 1679.2L1583.2 1676.2L1584.9 1673.3L1587.0 1670.6L1589.5 1668.2L1592.5 1666.1L1595.7 1664.4L1599.2 1663.1L1602.8 1662.1L1606.7 1661.6L1610.6 1661.5L1614.5 1661.8L1618.3 1662.6L1622.0 1663.8L1625.6 1665.3L1628.9 1667.2L1631.8 1669.5L1634.5 1672.0L1636.7 1674.8L1638.5 1677.8L1639.8 1681.0L1640.6 1684.2L1640.9 1687.5L1640.7 1690.8L1640.0 1694.0L1635.8 1711.5L1634.6 1714.5L1632.9 1717.4L1630.8 1720.1L1628.3 1722.5L1625.3 1724.6L1622.1 1726.3L1618.6 1727.6L1615.0 1728.6L1611.1 1729.1L1607.2 1729.2L1603.3 1728.9L1599.5 1728.1L1595.8 1726.9L1592.2 1725.4L1588.9 1723.5L1586.0 1721.2L1583.3 1718.7L1581.1 1715.9L1579.3 1712.9L1578.0 1709.7L1577.2 1706.5Z" fill="url(#side)"/>
<ellipse cx="1611" cy="1686.6" rx="30" ry="25" transform="rotate(8 1611 1686.6)" fill="#45a05f"/>
<path d="M1670.5 1689.1L1670.7 1685.8L1671.4 1682.6L1675.6 1665.1L1676.8 1662.1L1678.5 1659.2L1680.6 1656.5L1683.1 1654.1L1686.1 1652.0L1689.3 1650.3L1692.8 1649.0L1696.4 1648.0L1700.3 1647.5L1704.2 1647.4L1708.1 1647.7L1711.9 1648.5L1715.6 1649.7L1719.2 1651.2L1722.5 1653.1L1725.4 1655.4L1728.1 1657.9L1730.3 1660.7L1732.1 1663.7L1733.4 1666.9L1734.2 1670.1L1734.5 1673.4L1734.3 1676.7L1733.6 1679.9L1729.4 1697.4L1728.2 1700.4L1726.5 1703.3L1724.4 1706.0L1721.9 1708.4L1718.9 1710.5L1715.7 1712.2L1712.2 1713.5L1708.6 1714.5L1704.7 1715.0L1700.8 1715.1L1696.9 1714.8L1693.1 1714.0L1689.4 1712.8L1685.8 1711.3L1682.5 1709.4L1679.6 1707.1L1676.9 1704.6L1674.7 1701.8L1672.9 1698.8L1671.6 1695.6L1670.8 1692.4Z" fill="url(#side)"/>
<ellipse cx="1704.6" cy="1672.5" rx="30" ry="25" transform="rotate(8 1704.6 1672.5)" fill="#45a05f"/>
<path d="M1551.3 1783.5L1551.5 1780.2L1552.2 1777.0L1556.4 1759.5L1557.6 1756.5L1559.3 1753.6L1561.4 1750.9L1563.9 1748.5L1566.9 1746.4L1570.1 1744.7L1573.6 1743.4L1577.2 1742.4L1581.1 1741.9L1585.0 1741.8L1588.9 1742.1L1592.7 1742.9L1596.4 1744.1L1600.0 1745.6L1603.3 1747.5L1606.2 1749.8L1608.9 1752.3L1611.1 1755.1L1612.9 1758.1L1614.2 1761.3L1615.0 1764.5L1615.3 1767.8L1615.1 1771.1L1614.4 1774.3L1610.2 1791.8L1609.0 1794.8L1607.3 1797.7L1605.2 1800.4L1602.7 1802.8L1599.7 1804.9L1596.5 1806.6L1593.0 1807.9L1589.4 1808.9L1585.5 1809.4L1581.6 1809.5L1577.7 1809.2L1573.9 1808.4L1570.2 1807.2L1566.6 1805.7L1563.3 1803.8L1560.4 1801.5L1557.7 1799.0L1555.5 1796.2L1553.7 1793.2L1552.4 1790.0L1551.6 1786.8Z" fill="url(#side)"/>
<ellipse cx="1585.4" cy="1766.9" rx="30" ry="25" transform="rotate(8 1585.4 1766.9)" fill="#45a05f"/>
<path d="M1646.9 1768.5L1647.1 1765.2L1647.8 1762.0L1652.0 1744.5L1653.2 1741.5L1654.9 1738.6L1657.0 1735.9L1659.5 1733.5L1662.5 1731.4L1665.7 1729.7L1669.2 1728.4L1672.8 1727.4L1676.7 1726.9L1680.6 1726.8L1684.5 1727.1L1688.3 1727.9L1692.0 1729.1L1695.6 1730.6L1698.9 1732.5L1701.8 1734.8L1704.5 1737.3L1706.7 1740.1L1708.5 1743.1L1709.8 1746.3L1710.6 1749.5L1710.9 1752.8L1710.7 1756.1L1710.0 1759.3L1705.8 1776.8L1704.6 1779.8L1702.9 1782.7L1700.8 1785.4L1698.3 1787.8L1695.3 1789.9L1692.1 1791.6L1688.6 1792.9L1685.0 1793.9L1681.1 1794.4L1677.2 1794.5L1673.3 1794.2L1669.5 1793.4L1665.8 1792.2L1662.2 1790.7L1658.9 1788.8L1656.0 1786.5L1653.3 1784.0L1651.1 1781.2L1649.3 1778.2L1648.0 1775.0L1647.2 1771.8Z" fill="url(#side)"/>
<ellipse cx="1681" cy="1751.9" rx="30" ry="25" transform="rotate(8 1681 1751.9)" fill="#45a05f"/>
<path d="M1435.1 1664.2L1430.7 1689.3L1437.3 1687.5L1465.3 1786.7L1458.7 1788.5L1475.5 1807.7L1479.9 1782.6L1473.3 1784.4L1445.3 1685.2L1451.9 1683.4Z" fill="#b23a8e"/>
<text class="in" style="font-size:39.5px" transform="translate(1572 1857.2) rotate(-9.6) skewX(-5)">stretching</text>
</g>
<g id="mode-labels">
<text class="lb" x="571" y="457.4" fill="#555557">[−1;1]</text>
<text class="lb" x="571" y="602.0" fill="#555557">[1;−1]</text>
<text class="lb" x="1797.5" y="253.4" fill="#2b2b2b">[0;1]</text>
<text class="lb" x="1879" y="350.9" fill="#2b2b2b">[1;0]</text>
<text class="lb" x="1785.2" y="1303.8" fill="#2b2b2b">[−1;1]</text>
<text class="lb" x="1856" y="1406.2" fill="#2b2b2b">[1;−1]</text>
<text class="lb" x="1879" y="1580.1" fill="#2b2b2b">[1;0]</text>
<text class="lb" x="1879" y="1654.7" fill="#2b2b2b">[0;1]</text>
</g>
</svg>
</body></html>
